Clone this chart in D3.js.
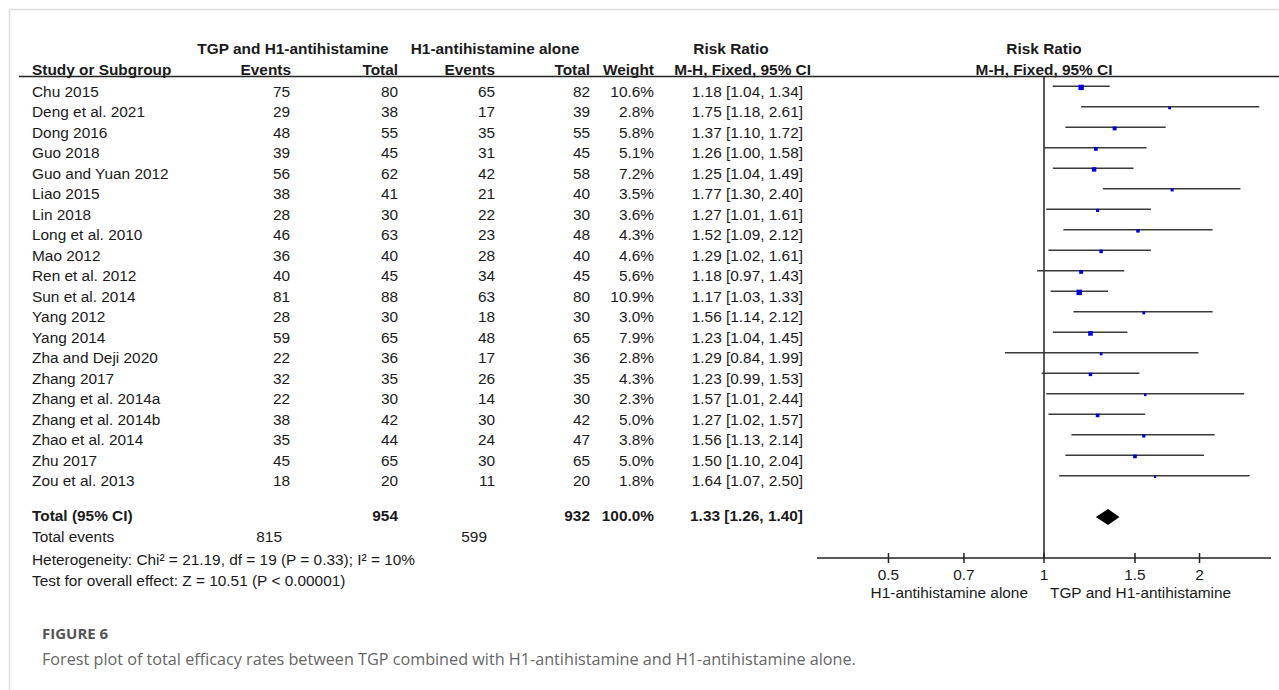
<!DOCTYPE html>
<html>
<head>
<meta charset="utf-8">
<script src="https://cdn.jsdelivr.net/npm/d3@7"></script>
<style>
  html, body { margin: 0; padding: 0; background: #fff; }
  svg { display: block; }
  .tbl { font-family: "Liberation Sans", Arial, sans-serif; font-size: 15.4px; fill: #1a1a1a; }
  .b { font-weight: bold; }
  .cap-title { font-family: "Open Sans", sans-serif; font-size: 15px; font-weight: 700; fill: #555; }
  .cap-text { font-family: "Open Sans", sans-serif; font-size: 16.2px; fill: #666; }
</style>
</head>
<body>
<svg id="chart" width="1279" height="690"></svg>
<script>
// Study-level data
const studies = ["Chu 2015", "Deng et al. 2021", "Dong 2016", "Guo 2018", "Guo and Yuan 2012",
  "Liao 2015", "Lin 2018", "Long et al. 2010", "Mao 2012", "Ren et al. 2012", "Sun et al. 2014",
  "Yang 2012", "Yang 2014", "Zha and Deji 2020", "Zhang 2017", "Zhang et al. 2014a",
  "Zhang et al. 2014b", "Zhao et al. 2014", "Zhu 2017", "Zou et al. 2013"];
const tgpEvents = [75, 29, 48, 39, 56, 38, 28, 46, 36, 40, 81, 28, 59, 22, 32, 22, 38, 35, 45, 18];
const tgpTotal  = [80, 38, 55, 45, 62, 41, 30, 63, 40, 45, 88, 30, 65, 36, 35, 30, 42, 44, 65, 20];
const h1Events  = [65, 17, 35, 31, 42, 21, 22, 23, 28, 34, 63, 18, 48, 17, 26, 14, 30, 24, 30, 11];
const h1Total   = [82, 39, 55, 45, 58, 40, 30, 48, 40, 45, 80, 30, 65, 36, 35, 30, 42, 47, 65, 20];
const weights   = [10.6, 2.8, 5.8, 5.1, 7.2, 3.5, 3.6, 4.3, 4.6, 5.6, 10.9, 3.0, 7.9, 2.8, 4.3, 2.3, 5.0, 3.8, 5.0, 1.8];
const rr        = [1.18, 1.75, 1.37, 1.26, 1.25, 1.77, 1.27, 1.52, 1.29, 1.18, 1.17, 1.56, 1.23, 1.29, 1.23, 1.57, 1.27, 1.56, 1.50, 1.64];
const ciLow     = [1.04, 1.18, 1.10, 1.00, 1.04, 1.30, 1.01, 1.09, 1.02, 0.97, 1.03, 1.14, 1.04, 0.84, 0.99, 1.01, 1.02, 1.13, 1.10, 1.07];
const ciHigh    = [1.34, 2.61, 1.72, 1.58, 1.49, 2.40, 1.61, 2.12, 1.61, 1.43, 1.33, 2.12, 1.45, 1.99, 1.53, 2.44, 1.57, 2.14, 2.04, 2.50];

// Pooled result
const totalTgp = 954, totalH1 = 932, totalWeight = 100.0;
const totalEventsTgp = 815, totalEventsH1 = 599;
const pooled = { rr: 1.33, lo: 1.26, hi: 1.40 };
const heterogeneityText = "Heterogeneity: Chi² = 21.19, df = 19 (P = 0.33); I² = 10%";
const overallText = "Test for overall effect: Z = 10.51 (P < 0.00001)";

// Axis
const axisTicks = [0.5, 0.7, 1, 1.5, 2];
const axisLimit = 2.75;
const favoursLeft = "H1-antihistamine alone";
const favoursRight = "TGP and H1-antihistamine";

const svg = d3.select("#chart");

// card frame
svg.append("path").attr("d", "M9.5,690 V9.5 H1279").attr("fill", "none").attr("stroke", "#dcdcdc").attr("stroke-width", 1.5);

const x = d3.scaleLog().domain([1 / axisLimit, axisLimit]).range([817, 1271]);
const row = d3.scaleLinear().domain([0, 1]).range([96.7, 117.2]); // baseline of row i

const fmt2 = d3.format(".2f");
const g = svg.append("g").attr("class", "tbl");

function txt(xp, yp, s, anchor, bold) {
  g.append("text").attr("x", xp).attr("y", yp).attr("text-anchor", anchor || "start")
    .attr("class", bold ? "b" : null).text(s);
}

// headers
txt(293, 54, "TGP and H1-antihistamine", "middle", true);
txt(495, 54, "H1-antihistamine alone", "middle", true);
txt(731, 54, "Risk Ratio", "middle", true);
txt(x(1), 54, "Risk Ratio", "middle", true);
txt(32, 75, "Study or Subgroup", "start", true);
txt(291, 75, "Events", "end", true);
txt(398, 75, "Total", "end", true);
txt(495, 75, "Events", "end", true);
txt(590, 75, "Total", "end", true);
txt(654, 75, "Weight", "end", true);
txt(811, 75, "M-H, Fixed, 95% CI", "end", true);
txt(x(1), 75, "M-H, Fixed, 95% CI", "middle", true);

svg.append("line").attr("x1", 19).attr("x2", 1279).attr("y1", 76.5).attr("y2", 76.5)
  .attr("stroke", "#222").attr("stroke-width", 1.6);

// study rows
studies.forEach((s, i) => {
  const y = row(i);
  txt(32, y, s);
  txt(290, y, tgpEvents[i], "end");
  txt(398, y, tgpTotal[i], "end");
  txt(495, y, h1Events[i], "end");
  txt(590, y, h1Total[i], "end");
  txt(654, y, weights[i].toFixed(1) + "%", "end");
  txt(803, y, `${fmt2(rr[i])} [${fmt2(ciLow[i])}, ${fmt2(ciHigh[i])}]`, "end");
});

// totals
const yTot = 520.5;
txt(32, yTot, "Total (95% CI)", "start", true);
txt(398, yTot, totalTgp, "end", true);
txt(590, yTot, totalH1, "end", true);
txt(654, yTot, totalWeight.toFixed(1) + "%", "end", true);
txt(803, yTot, `${fmt2(pooled.rr)} [${fmt2(pooled.lo)}, ${fmt2(pooled.hi)}]`, "end", true);
txt(32, 542, "Total events");
txt(282, 542, totalEventsTgp, "end");
txt(487, 542, totalEventsH1, "end");
txt(32, 564.5, heterogeneityText);
txt(32, 586, overallText);

// forest panel
const yAxis = 558;
const plot = svg.append("g");
plot.append("line").attr("x1", x(1)).attr("x2", x(1)).attr("y1", 76.5).attr("y2", yAxis)
  .attr("stroke", "#222").attr("stroke-width", 1.5);

studies.forEach((s, i) => {
  const yl = row(i) - 10.5;
  plot.append("line").attr("x1", x(ciLow[i])).attr("x2", x(ciHigh[i])).attr("y1", yl).attr("y2", yl)
    .attr("stroke", "#3a3a3a").attr("stroke-width", 1.6);
  const side = Math.max(2.2, 1.65 * Math.sqrt(weights[i]));
  plot.append("rect").attr("x", x(rr[i]) - side / 2).attr("y", yl + 1.2 - side / 2)
    .attr("width", side).attr("height", side).attr("fill", "#0000dd");
});

// pooled diamond
const yd = 517;
plot.append("path")
  .attr("d", `M${x(pooled.lo)},${yd} L${x(pooled.rr)},${yd - 8} L${x(pooled.hi)},${yd} L${x(pooled.rr)},${yd + 8} Z`)
  .attr("fill", "#000");

// axis
const axis = plot.append("g");
axis.append("line").attr("x1", x.range()[0]).attr("x2", x.range()[1]).attr("y1", yAxis).attr("y2", yAxis)
  .attr("stroke", "#222").attr("stroke-width", 1.5);
axisTicks.forEach(t => {
  axis.append("line").attr("x1", x(t)).attr("x2", x(t)).attr("y1", yAxis - 5).attr("y2", yAxis + 5)
    .attr("stroke", "#222").attr("stroke-width", 1.5);
});
axisTicks.forEach(t => txt(x(t), 580, String(t), "middle"));
txt(1028, 598, favoursLeft, "end");
txt(1050, 598, favoursRight, "start");

// caption
svg.append("text").attr("class", "cap-title").attr("x", 42).attr("y", 639).text("FIGURE 6");
svg.append("text").attr("class", "cap-text").attr("x", 42).attr("y", 665)
  .text("Forest plot of total efficacy rates between TGP combined with H1-antihistamine and H1-antihistamine alone.");
</script>
</body>
</html>
